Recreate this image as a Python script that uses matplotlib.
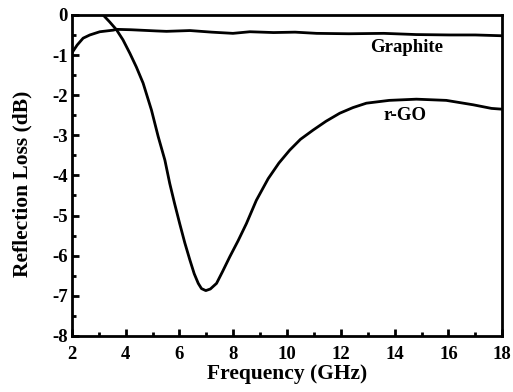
import numpy as np
import matplotlib
matplotlib.use("Agg")
import matplotlib.pyplot as plt
from matplotlib.ticker import MultipleLocator

plt.rcParams["font.family"] = ["Liberation Serif", "DejaVu Serif"]
plt.rcParams["font.weight"] = "bold"
plt.rcParams["axes.unicode_minus"] = False

# Graphite curve
freq_graphite = [2.0, 2.2, 2.42, 2.67, 3.04, 3.54, 3.66, 4.2, 5.15, 5.52, 6.39, 7.2,
                 7.99, 8.62, 9.5, 10.3, 11.1, 12.3, 13.6, 14.8, 16.05, 17.0, 18.0]
rl_graphite = [-0.95, -0.75, -0.58, -0.5, -0.42, -0.38, -0.36, -0.37, -0.40, -0.41,
               -0.39, -0.43, -0.46, -0.42, -0.44, -0.43, -0.46, -0.47, -0.46, -0.49,
               -0.50, -0.50, -0.52]

# r-GO curve
freq_rgo = [3.16, 3.4, 3.66, 3.9, 4.16, 4.4, 4.65, 4.96, 5.21, 5.46, 5.64, 5.82,
            6.01, 6.2, 6.39, 6.55, 6.70, 6.82, 6.98, 7.15, 7.38, 7.6, 7.87, 8.18,
            8.49, 8.86, 9.3, 9.7, 10.1, 10.5, 10.97, 11.45, 11.96, 12.45, 12.95,
            13.8, 14.81, 15.92, 16.92, 17.6, 18.0]
rl_rgo = [0.0, -0.17, -0.37, -0.62, -0.96, -1.3, -1.70, -2.37, -3.03, -3.62, -4.20,
          -4.70, -5.20, -5.68, -6.11, -6.45, -6.69, -6.82, -6.87, -6.83, -6.69,
          -6.40, -6.03, -5.63, -5.20, -4.62, -4.08, -3.69, -3.37, -3.10, -2.87,
          -2.65, -2.45, -2.31, -2.20, -2.13, -2.10, -2.13, -2.24, -2.33, -2.35]

fig = plt.figure(figsize=(5.13, 3.92), dpi=100)
ax = fig.add_axes([0.140, 0.143, 0.839, 0.819])

ax.plot(freq_graphite, rl_graphite, color="black", lw=2.0)
ax.plot(freq_rgo, rl_rgo, color="black", lw=2.0)

ax.text(14.45, -0.8, "Graphite", ha="center", va="center", fontsize=13.5, fontweight="bold")
ax.text(14.4, -2.5, "r-GO", ha="center", va="center", fontsize=13.5, fontweight="bold")

ax.set_xlim(2, 18)
ax.set_ylim(-8, 0)
ax.xaxis.set_major_locator(MultipleLocator(2))
ax.xaxis.set_minor_locator(MultipleLocator(1))
ax.yaxis.set_major_locator(MultipleLocator(1))
ax.yaxis.set_minor_locator(MultipleLocator(0.5))
ax.tick_params(which="both", direction="in", top=False, right=False, width=2,
               labelsize=13.5, pad=3)
ax.tick_params(axis="x", which="both", pad=7)
ax.tick_params(which="major", length=5)
ax.tick_params(which="minor", length=3)
for s in ax.spines.values():
    s.set_linewidth(2)

ax.set_xlabel("Frequency (GHz)", fontsize=15.5, fontweight="bold", labelpad=1)
ax.set_ylabel("Reflection Loss (dB)", fontsize=15.5, fontweight="bold", labelpad=2)
ax.yaxis.set_label_coords(-0.091, 0.475)

fig.savefig("out.png", dpi=100)
